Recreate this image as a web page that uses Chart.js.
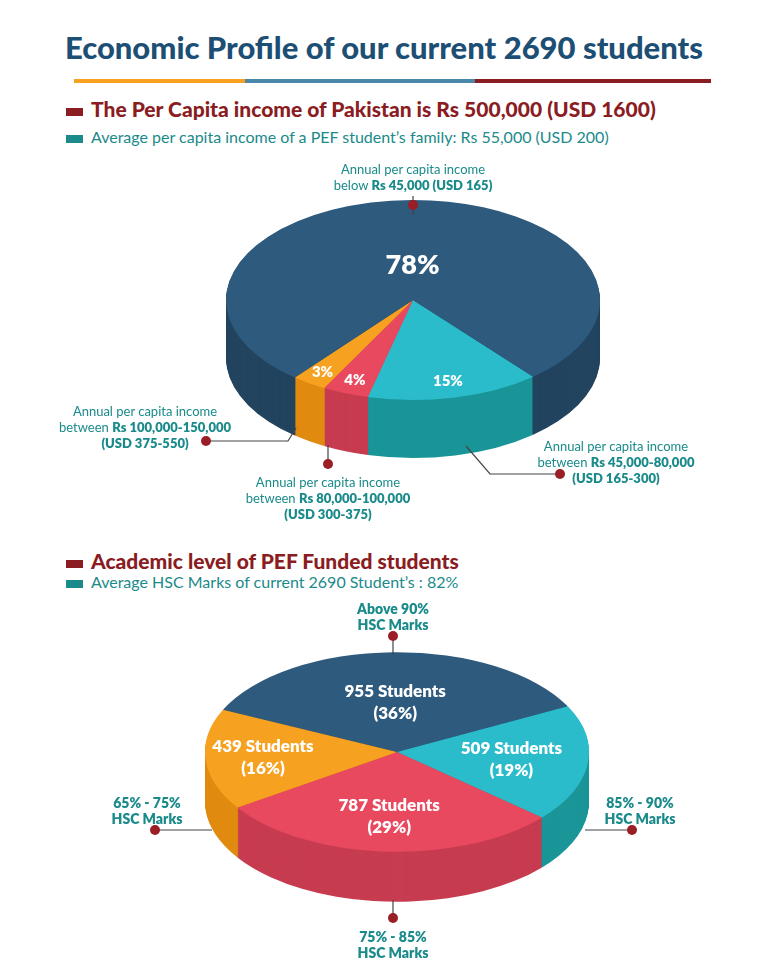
<!DOCTYPE html>
<html><head><meta charset="utf-8">
<script src="https://cdn.jsdelivr.net/npm/chart.js@4"></script>
<style>
body{margin:0;background:#fff;font-family:Lato,"Open Sans",sans-serif;}
#page{position:relative;width:768px;height:978px;overflow:hidden;}
.abs{position:absolute;}
h1{position:absolute;top:28px;left:0;width:768px;text-align:center;margin:0;font-size:31px;font-weight:900;color:#1d4e74;}
.bar{position:absolute;top:79px;height:4px;}
.h2{position:absolute;left:66px;font-size:21px;font-weight:900;color:#8a1c22;}
.h3{position:absolute;left:66px;font-size:16px;color:#1a8a8a;}
.sq{display:inline-block;width:17px;height:8px;margin-right:8px;vertical-align:middle;}
.lab{position:absolute;font-size:13px;color:#1a8a8a;text-align:center;line-height:16px;white-space:nowrap;transform:translateX(-50%);}
.lab b{font-weight:800;}
.lab2{position:absolute;font-size:14px;font-weight:800;color:#1a8a8a;text-align:center;line-height:16px;transform:translateX(-50%);white-space:nowrap;}
</style></head><body>
<div id="page">
<h1>Economic Profile of our current 2690 students</h1>
<div class="bar" style="left:74px;width:171px;background:#f6a11f"></div>
<div class="bar" style="left:245px;width:230px;background:#4a87a8"></div>
<div class="bar" style="left:475px;width:236px;background:#8a1c22"></div>
<div class="h2" style="top:96px"><span class="sq" style="background:#8a1c22"></span>The Per Capita income of Pakistan is Rs 500,000 (USD 1600)</div>
<div class="h3" style="top:127px"><span class="sq" style="background:#1a8a8a"></span>Average per capita income of a PEF student’s family: Rs 55,000 (USD 200)</div>
<div class="h2" style="top:548px"><span class="sq" style="background:#8a1c22"></span>Academic level of PEF Funded students</div>
<div class="h3" style="top:572px"><span class="sq" style="background:#1a8a8a"></span>Average HSC Marks of current 2690 Student’s :  82%</div>

<div class="abs" style="left:113px;top:170px;width:600px;height:320px"><canvas id="c1"></canvas></div>
<div class="abs" style="left:97px;top:622px;width:600px;height:320px"><canvas id="c2"></canvas></div>

<svg class="abs" style="left:0;top:0" width="768" height="978">
<g stroke="#444" stroke-width="1.2" fill="none">
<path d="M413 196 V215"/><path d="M296 428 L288 441 H206"/><path d="M328 445 V464"/><path d="M466 446 L490 474 H560"/>
<path d="M393 634 V655"/><path d="M155 830 H212"/><path d="M632 830 H585"/><path d="M393 900 V918"/>
</g>
<g fill="#9a1e26">
<circle cx="413" cy="205" r="5"/><circle cx="206" cy="441" r="5"/><circle cx="328" cy="464" r="5"/><circle cx="560" cy="474" r="5"/>
<circle cx="393" cy="636" r="5"/><circle cx="155" cy="830" r="5"/><circle cx="632" cy="830" r="5"/><circle cx="393" cy="918" r="5"/>
</g></svg>

<div class="lab" style="left:413px;top:161px">Annual per capita income<br>below <b>Rs 45,000 (USD 165)</b></div>
<div class="lab" style="left:145px;top:403px">Annual per capita income<br>between <b>Rs 100,000-150,000</b><br><b>(USD 375-550)</b></div>
<div class="lab" style="left:328px;top:474px">Annual per capita income<br>between <b>Rs 80,000-100,000</b><br><b>(USD 300-375)</b></div>
<div class="lab" style="left:616px;top:438px">Annual per capita income<br>between <b>Rs 45,000-80,000</b><br><b>(USD 165-300)</b></div>
<div class="lab2" style="left:393px;top:601px">Above 90%<br>HSC Marks</div>
<div class="lab2" style="left:147px;top:795px">65% - 75%<br>HSC Marks</div>
<div class="lab2" style="left:640px;top:795px">85% - 90%<br>HSC Marks</div>
<div class="lab2" style="left:393px;top:929px">75% - 85%<br>HSC Marks</div>
</div>
<script>
const incomeCategories=["Rs 45,000-80,000","Rs 80,000-100,000","Rs 100,000-150,000","below Rs 45,000"];
const incomeValues=[15,4,3,78];
const incomeLabels=["15%","4%","3%","78%"];
const marksCategories=["Above 90%","85% - 90%","75% - 85%","65% - 75%"];
const marksStudents=[955,509,787,439];
const marksPercent=[36,19,29,16];

const pie3d={
  id:'pie3d',
  beforeDatasetsDraw(chart){
    const o=chart.options.plugins.pie3d, ctx=chart.ctx, meta=chart.getDatasetMeta(0);
    const a0=meta.data[0]; const cx=a0.x, cy=a0.y;
    ctx.save();
    ctx.translate(cx,cy);ctx.scale(1,o.k);ctx.translate(-cx,-cy);
    for(let d=o.depth;d>=1;d--){
      meta.data.forEach((a,i)=>{
        ctx.beginPath();ctx.moveTo(a.x,a.y+d/o.k);
        ctx.arc(a.x,a.y+d/o.k,a.outerRadius,a.startAngle,a.endAngle);
        ctx.closePath();ctx.fillStyle=o.side[i];ctx.fill();
      });
    }
  },
  afterDatasetsDraw(chart){
    chart.ctx.restore();
    const o=chart.options.plugins.pie3d, ctx=chart.ctx, meta=chart.getDatasetMeta(0);
    ctx.save();ctx.fillStyle='#fff';ctx.textAlign='center';ctx.textBaseline='middle';
    meta.data.forEach((a,i)=>{
      const m=(a.startAngle+a.endAngle)/2, f=o.f[i];
      const x=a.x+Math.cos(m)*a.outerRadius*f, y=a.y+Math.sin(m)*a.outerRadius*f*o.k;
      ctx.font='800 '+o.size[i]+'px Lato, sans-serif';
      const lines=o.text[i];
      lines.forEach((t,j)=>ctx.fillText(t,x,y+(j-(lines.length-1)/2)*22));
    });
    ctx.restore();
  }
};
Chart.register(pie3d);
function make(id,vals,colors,side,rot,r,k,depth,f,size,text){
  new Chart(document.getElementById(id),{type:'pie',
    data:{labels:id==='c1'?incomeCategories:marksCategories,datasets:[{data:vals,backgroundColor:colors,borderWidth:0,radius:r}]},
    options:{responsive:true,maintainAspectRatio:false,animation:false,rotation:rot,
      layout:{padding:{bottom:60}},events:[],
      plugins:{legend:{display:false},tooltip:{enabled:false},pie3d:{k,depth,side,f,size,text}}}});
}
make('c1',incomeValues,['#2bbccb','#e8495f','#f6a11f','#2e5a7e'],['#1a9598','#c73c50','#e08b10','#22445f'],140,187,0.535,58,
  [0.83,0.86,0.87,0.35],[15,15,15,27],incomeLabels.map(t=>[t]));
make('c2',marksStudents,['#2e5a7e','#2bbccb','#e8495f','#f6a11f'],['#22445f','#1a9598','#c73c50','#e08b10'],-65,192,0.52,50,
  [0.5,0.6,0.65,0.7],[17,17,17,17],marksStudents.map((s,i)=>[s+' Students','('+marksPercent[i]+'%)']));
</script>
</body></html>
